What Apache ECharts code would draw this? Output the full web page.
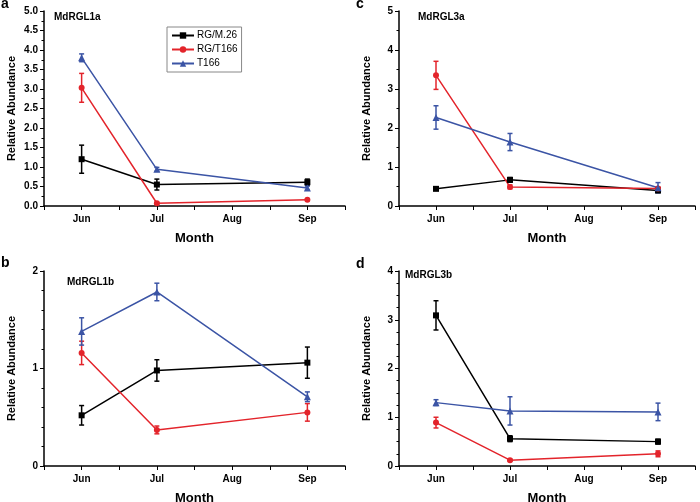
<!DOCTYPE html>
<html><head><meta charset="utf-8">
<script src="https://cdn.jsdelivr.net/npm/echarts@6/dist/echarts.min.js"></script>
<style>html,body{margin:0;padding:0;background:#fff}#c{width:700px;height:502px}</style>
</head><body><div id="c"></div>
<script>
const months = ['Jun','Jul','Aug','Sep'];
const sampled = ['Jun','Jul','Sep'];
const seriesNames = ['RG/M.26','RG/T166','T166'];

// Panel a: MdRGL1a
const a_M26 = [1.20, 0.55, 0.61];  const a_M26_err = [0.36, 0.14, 0.08];
const a_RGT = [3.03, 0.07, 0.16];  const a_RGT_err = [0.37, 0.02, 0.02];
const a_T   = [3.80, 0.94, 0.46];  const a_T_err   = [0.10, 0.05, 0.05];
// Panel b: MdRGL1b
const b_M26 = [0.52, 0.98, 1.06];  const b_M26_err = [0.10, 0.11, 0.16];
const b_RGT = [1.16, 0.37, 0.55];  const b_RGT_err = [0.12, 0.04, 0.09];
const b_T   = [1.38, 1.785, 0.71]; const b_T_err   = [0.14, 0.09, 0.05];
// Panel c: MdRGL3a
const c_M26 = [0.44, 0.67, 0.40];  const c_M26_err = [0.02, 0.06, 0.06];
const c_RGT = [3.35, 0.49, 0.45];  const c_RGT_err = [0.36, 0.05, 0.04];
const c_T   = [2.27, 1.64, 0.47];  const c_T_err   = [0.30, 0.22, 0.13];
// Panel d: MdRGL3b
const d_M26 = [3.09, 0.56, 0.50];  const d_M26_err = [0.30, 0.06, 0.05];
const d_RGT = [0.89, 0.12, 0.25];  const d_RGT_err = [0.11, 0.02, 0.06];
const d_T   = [1.30, 1.13, 1.11];  const d_T_err   = [0.06, 0.29, 0.18];

const panels = [
  {title:'MdRGL1a', letter:'a', vals:[a_M26,a_RGT,a_T], errs:[a_M26_err,a_RGT_err,a_T_err], ymax:5, interval:0.5, minor:2, dec:1},
  {title:'MdRGL1b', letter:'b', vals:[b_M26,b_RGT,b_T], errs:[b_M26_err,b_RGT_err,b_T_err], ymax:2, interval:1, minor:5, dec:0},
  {title:'MdRGL3a', letter:'c', vals:[c_M26,c_RGT,c_T], errs:[c_M26_err,c_RGT_err,c_T_err], ymax:5, interval:1, minor:2, dec:0},
  {title:'MdRGL3b', letter:'d', vals:[d_M26,d_RGT,d_T], errs:[d_M26_err,d_RGT_err,d_T_err], ymax:4, interval:1, minor:4, dec:0}
];

const colors = ['#000000','#e3242b','#3b54a5'];
const symbols = ['rect','circle','triangle'];
const symSizes = [6,6,7];
const grids = [
  {left:44, top:11, width:301, height:195, outerBoundsMode:'none', containLabel:false},
  {left:44, top:271, width:301, height:195, outerBoundsMode:'none', containLabel:false},
  {left:399, top:11, width:296, height:195, outerBoundsMode:'none', containLabel:false},
  {left:399, top:271, width:296, height:195, outerBoundsMode:'none', containLabel:false}
];
const letterPos = [[1,-3],[1,256],[356,-3],[356,257]];
const titlePos = [[54,12],[67,277],[418,12],[405,270]];

const FONT = 'Arial, "Liberation Sans", sans-serif';
const option = {
  animation:false,
  backgroundColor:'#fff',
  grid: grids,
  legend: {
    data: seriesNames, orient:'vertical', left:167, top:27,
    borderColor:'#888', borderWidth:1, padding:[3,4,3,4],
    itemWidth:22, itemHeight:8, itemGap:3,
    textStyle:{fontFamily:FONT, fontSize:10, color:'#000', lineHeight:11, padding:[0,0,0,-2]}
  },
  xAxis: [], yAxis: [], series: [], graphic: []
};

const gIdx = {a:0,b:1,c:2,d:3};
panels.forEach((p,i)=>{
  const gi = gIdx[p.letter];
  option.xAxis.push({
    type:'value', gridIndex:gi, min:0.5, max:4.5, interval:0.5,
    name:'Month', nameLocation:'middle', nameGap:26,
    nameTextStyle:{fontFamily:FONT, fontWeight:'bold', fontSize:13, color:'#000'},
    axisLine:{show:true, lineStyle:{color:'#000', width:1.5}},
    axisTick:{show:true, length:4, lineStyle:{color:'#000', width:1}},
    splitLine:{show:false},
    axisLabel:{fontFamily:FONT, fontWeight:'bold', fontSize:10, color:'#000', margin:8,
      formatter:v=> Number.isInteger(v) ? months[v-1] : ''}
  });
  option.yAxis.push({
    type:'value', gridIndex:gi, min:0, max:p.ymax, interval:p.interval,
    name:'Relative Abundance', nameLocation:'middle', nameGap:27,
    nameTextStyle:{fontFamily:FONT, fontWeight:'bold', fontSize:11, color:'#000'},
    axisLine:{show:true, lineStyle:{color:'#000', width:1.5}},
    axisTick:{show:true, length:4, lineStyle:{color:'#000', width:1}},
    minorTick:{show:true, splitNumber:p.minor, length:2.5, lineStyle:{color:'#000', width:1}},
    splitLine:{show:false},
    axisLabel:{fontFamily:FONT, fontWeight:'bold', fontSize:10, color:'#000', margin:6,
      formatter:v=> v.toFixed(p.dec)}
  });
  p.vals.forEach((vals,k)=>{
    const data = vals.map((v,j)=>[months.indexOf(sampled[j])+1, v]);
    const errData = vals.map((v,j)=>[months.indexOf(sampled[j])+1, v - p.errs[k][j], v + p.errs[k][j]]);
    option.series.push({
      type:'line', name:seriesNames[k], xAxisIndex:i, yAxisIndex:i, data:data, z:4,
      symbol:symbols[k], symbolSize:symSizes[k], showAllSymbol:true,
      lineStyle:{color:colors[k], width:1.5}, itemStyle:{color:colors[k]}
    });
    option.series.push({
      type:'custom', name:seriesNames[k]+' error', xAxisIndex:i, yAxisIndex:i, data:errData, z:3,
      itemStyle:{color:colors[k]},
      renderItem:(params, api)=>{
        const x = api.value(0);
        const lo = api.coord([x, api.value(1)]);
        const hi = api.coord([x, api.value(2)]);
        const w = 2.5;
        const st = {stroke:colors[k], lineWidth:1.5};
        return {type:'group', children:[
          {type:'line', shape:{x1:lo[0],y1:lo[1],x2:hi[0],y2:hi[1]}, style:st},
          {type:'line', shape:{x1:lo[0]-w,y1:lo[1],x2:lo[0]+w,y2:lo[1]}, style:st},
          {type:'line', shape:{x1:hi[0]-w,y1:hi[1],x2:hi[0]+w,y2:hi[1]}, style:st}
        ]};
      },
      encode:{x:0, y:[1,2]}
    });
  });
  option.graphic.push({type:'text', left:letterPos[gi][0], top:letterPos[gi][1],
    style:{text:p.letter, font:'bold 14px '+FONT, fill:'#000'}});
  option.graphic.push({type:'text', left:titlePos[gi][0], top:titlePos[gi][1],
    style:{text:p.title, font:'bold 10px '+FONT, fill:'#000'}});
});

const chart = echarts.init(document.getElementById('c'), null, {renderer:'canvas'});
chart.setOption(option);
</script></body></html>
